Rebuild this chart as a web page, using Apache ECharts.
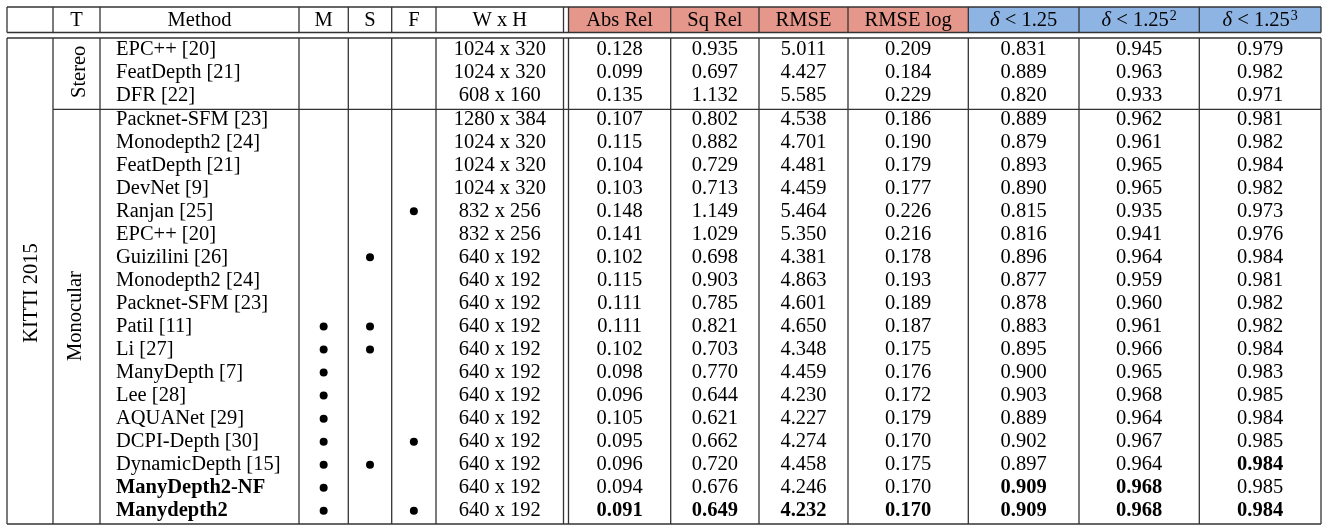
<!DOCTYPE html>
<html>
<head>
<meta charset="utf-8">
<script src="https://cdn.jsdelivr.net/npm/echarts@6/dist/echarts.min.js"></script>
<style>
  html, body { margin: 0; padding: 0; background: #fff; }
  #main { width: 1331px; height: 530px; }
</style>
</head>
<body>
<div id="main"></div>
<script>
// ---- table content ----
const datasetName = 'KITTI 2015';
const groupNames = ['Stereo', 'Monocular'];
const headerLabels = ['', 'T', 'Method', 'M', 'S', 'F', 'W x H', 'Abs Rel', 'Sq Rel', 'RMSE', 'RMSE log',
  '{i|δ} < 1.25', '{i|δ} < 1.25{s|2}', '{i|δ} < 1.25{s|3}'];
const methods = ['EPC++ [20]', 'FeatDepth [21]', 'DFR [22]', 'Packnet-SFM [23]', 'Monodepth2 [24]',
  'FeatDepth [21]', 'DevNet [9]', 'Ranjan [25]', 'EPC++ [20]', 'Guizilini [26]', 'Monodepth2 [24]',
  'Packnet-SFM [23]', 'Patil [11]', 'Li [27]', 'ManyDepth [7]', 'Lee [28]', 'AQUANet [29]',
  'DCPI-Depth [30]', 'DynamicDepth [15]', 'ManyDepth2-NF', 'Manydepth2'];
const resolutions = ['1024 x 320', '1024 x 320', '608 x 160', '1280 x 384', '1024 x 320', '1024 x 320',
  '1024 x 320', '832 x 256', '832 x 256', '640 x 192', '640 x 192', '640 x 192', '640 x 192',
  '640 x 192', '640 x 192', '640 x 192', '640 x 192', '640 x 192', '640 x 192', '640 x 192', '640 x 192'];
const multiFrameRows = [12, 13, 14, 15, 16, 17, 18, 19, 20];
const semanticRows = [9, 12, 13, 18];
const flowRows = [7, 17, 20];
const absRel  = [0.128, 0.099, 0.135, 0.107, 0.115, 0.104, 0.103, 0.148, 0.141, 0.102, 0.115, 0.111, 0.111, 0.102, 0.098, 0.096, 0.105, 0.095, 0.096, 0.094, 0.091];
const sqRel   = [0.935, 0.697, 1.132, 0.802, 0.882, 0.729, 0.713, 1.149, 1.029, 0.698, 0.903, 0.785, 0.821, 0.703, 0.770, 0.644, 0.621, 0.662, 0.720, 0.676, 0.649];
const rmse    = [5.011, 4.427, 5.585, 4.538, 4.701, 4.481, 4.459, 5.464, 5.350, 4.381, 4.863, 4.601, 4.650, 4.348, 4.459, 4.230, 4.227, 4.274, 4.458, 4.246, 4.232];
const rmseLog = [0.209, 0.184, 0.229, 0.186, 0.190, 0.179, 0.177, 0.226, 0.216, 0.178, 0.193, 0.189, 0.187, 0.175, 0.176, 0.172, 0.179, 0.170, 0.175, 0.170, 0.170];
const delta1  = [0.831, 0.889, 0.820, 0.889, 0.879, 0.893, 0.890, 0.815, 0.816, 0.896, 0.877, 0.878, 0.883, 0.895, 0.900, 0.903, 0.889, 0.902, 0.897, 0.909, 0.909];
const delta2  = [0.945, 0.963, 0.933, 0.962, 0.961, 0.965, 0.965, 0.935, 0.941, 0.964, 0.959, 0.960, 0.961, 0.966, 0.965, 0.968, 0.964, 0.967, 0.964, 0.968, 0.968];
const delta3  = [0.979, 0.982, 0.971, 0.981, 0.982, 0.984, 0.982, 0.973, 0.976, 0.984, 0.981, 0.982, 0.982, 0.984, 0.983, 0.985, 0.984, 0.985, 0.984, 0.985, 0.984];
const metrics = [absRel, sqRel, rmse, rmseLog, delta1, delta2, delta3];

// bold cells: [metric index, row]
const bestCells = [[0, 20], [1, 20], [2, 20], [3, 20], [4, 19], [4, 20], [5, 19], [5, 20], [6, 18], [6, 20]];
const boldMethodRows = [19, 20];

// ---- layout ----
const FONT = '20.5px "Liberation Serif", "Times New Roman", serif';
const BOLD = 'bold ' + FONT;
const RULE = '#333';
const PINK = '#e6978b';
const BLUE = '#8db4e3';
const colWidths = [46, 47, 199, 49.3, 43.4, 44.3, 127.5, 102.2, 88.3, 89, 120.3, 110.7, 120.3, 121.7];
const ruleGap = 5;
const colLeft = [], colRight = [];
let acc = 0;
colWidths.forEach((w, i) => {
  colLeft.push(acc); acc += w; colRight.push(acc);
  if (i === 6) acc += ruleGap;
});
const tableWidth = acc;
// y axis in row units: row i centre = i
const yTop = -1.814, yHeadBottom = -0.7075, yBodyTop = -0.469, yGroupSep = 2.626, yBottom = 20.625;
const headerRow = -1.26;
const textDy = 1.2; // nudge glyphs down a touch

// ---- cells ----
const cells = [];
headerLabels.forEach((t, c) => {
  if (t) cells.push({ col: c, row: headerRow, text: t, font: FONT });
});
methods.forEach((m, r) => {
  cells.push({ col: 2, row: r, text: m, font: boldMethodRows.includes(r) ? BOLD : FONT, left: true });
  cells.push({ col: 6, row: r, text: resolutions[r], font: FONT });
  metrics.forEach((arr, k) => {
    const bold = bestCells.some(b => b[0] === k && b[1] === r);
    cells.push({ col: 7 + k, row: r, text: arr[r].toFixed(3), font: bold ? BOLD : FONT });
  });
});
multiFrameRows.forEach(r => cells.push({ col: 3, row: r, dot: true }));
semanticRows.forEach(r => cells.push({ col: 4, row: r, dot: true }));
flowRows.forEach(r => cells.push({ col: 5, row: r, dot: true }));
// rotated group labels
cells.push({ x: 24.7, row: 10.6, text: datasetName, font: FONT, rotate: true });
cells.push({ x: 73, row: 1.0, text: groupNames[0], font: FONT, rotate: true });
cells.push({ x: 69, row: 11.6, text: groupNames[1], font: FONT, rotate: true });

// ---- rules ----
const rules = [];
[yTop, yHeadBottom, yBodyTop, yBottom].forEach(y => rules.push([0, y, tableWidth, y]));
rules.push([colLeft[1], yGroupSep, tableWidth, yGroupSep]);
const vx = [0].concat(colRight, [colLeft[7]]);
vx.forEach(x => {
  rules.push([x, yTop, x, yHeadBottom]);
  rules.push([x, yBodyTop, x, yBottom]);
});

// header fills
const fills = [
  [colLeft[7], colRight[10], PINK],
  [colLeft[11], colRight[13], BLUE]
];

const rich = {
  i: { font: 'italic ' + FONT, lineHeight: 24, verticalAlign: 'middle' },
  s: { font: '14px "Liberation Serif", serif', lineHeight: 24, verticalAlign: 'top', padding: [0, 0, 0, 1] }
};

const chart = echarts.init(document.getElementById('main'));
chart.setOption({
  animation: false,
  backgroundColor: '#fff',
  grid: { left: 7, top: 7, width: tableWidth, height: 517 },
  xAxis: { type: 'value', min: 0, max: tableWidth, show: false },
  yAxis: { type: 'value', min: yTop, max: yBottom, inverse: true, show: false },
  series: [
    {
      type: 'custom',
      z: 1,
      silent: true,
      clip: false,
      data: fills.map(f => [f[0], yTop]),
      renderItem: (params, api) => {
        const f = fills[params.dataIndex];
        const p0 = api.coord([f[0], yTop]);
        const p1 = api.coord([f[1], yHeadBottom]);
        return { type: 'rect', shape: { x: p0[0], y: p0[1], width: p1[0] - p0[0], height: p1[1] - p0[1] }, style: { fill: f[2] } };
      }
    },
    {
      type: 'custom',
      z: 2,
      silent: true,
      clip: false,
      data: rules.map(l => [l[0], l[1]]),
      renderItem: (params, api) => {
        const l = rules[params.dataIndex];
        const a = api.coord([l[0], l[1]]);
        const b = api.coord([l[2], l[3]]);
        return { type: 'line', shape: { x1: a[0], y1: a[1], x2: b[0], y2: b[1] }, style: { stroke: RULE, lineWidth: 1.3 } };
      }
    },
    {
      type: 'custom',
      z: 3,
      silent: true,
      clip: false,
      data: cells.map(c => [c.x != null ? c.x : colLeft[c.col], c.row]),
      renderItem: (params, api) => {
        const c = cells[params.dataIndex];
        if (c.rotate) {
          const p = api.coord([c.x, c.row]);
          return { type: 'text', x: p[0], y: p[1], rotation: Math.PI / 2,
            style: { text: c.text, font: c.font, fill: '#000', align: 'center', verticalAlign: 'middle', textAlign: 'center', textVerticalAlign: 'middle' } };
        }
        const a = api.coord([colLeft[c.col], c.row]);
        const b = api.coord([colRight[c.col], c.row]);
        const cx = (a[0] + b[0]) / 2;
        if (c.dot) {
          return { type: 'circle', shape: { cx: cx, cy: a[1] + textDy, r: 4 }, style: { fill: '#000' } };
        }
        const al = c.left ? 'left' : 'center';
        return { type: 'text', x: c.left ? a[0] + 16 : cx, y: a[1] + textDy,
          style: { text: c.text, font: c.font, fill: '#000', align: al, verticalAlign: 'middle', textAlign: al, textVerticalAlign: 'middle', rich: rich } };
      }
    }
  ]
});
</script>
</body>
</html>
